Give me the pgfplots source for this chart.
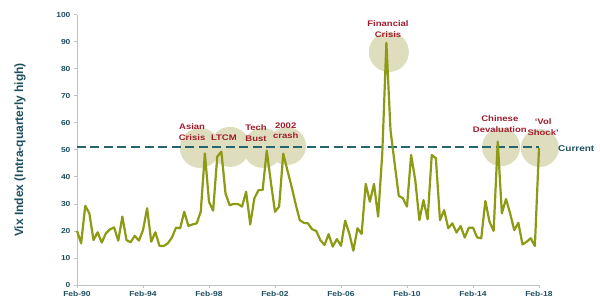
\documentclass[border=0pt]{standalone}
\usepackage{pgfplots}
\pgfplotsset{compat=1.18}
\usepackage{fontspec}
\setmainfont{Liberation Sans}
\definecolor{vixgreen}{RGB}{140,154,20}
\definecolor{tealtxt}{RGB}{30,80,95}
\definecolor{dashteal}{RGB}{40,100,110}
\definecolor{anred}{RGB}{160,28,44}
\definecolor{beige}{RGB}{222,221,190}
\definecolor{axgrey}{RGB}{185,195,200}
\newcommand\sq[1]{\scalebox{1}[0.85]{#1}}
\begin{document}
\begin{tikzpicture}
\useasboundingbox (-77pt,-22pt) rectangle (523pt,285pt);
\begin{axis}[
  at={(0pt,0pt)}, anchor=south west,
  scale only axis, width=462pt, height=270.3pt,
  xmin=0, xmax=112, ymin=0, ymax=100,
  axis lines*=left,
  axis line style={axgrey, line width=0.8pt},
  tick style={axgrey, line width=0.8pt},
  tick align=outside, major tick length=3pt,
  /pgf/number format/assume math mode=true,
  xtick={0,16,32,48,64,80,96,112},
  xticklabels={\sq{Feb-90},\sq{Feb-94},\sq{Feb-98},\sq{Feb-02},\sq{Feb-06},\sq{Feb-10},\sq{Feb-14},\sq{Feb-18}},
  ytick={0,10,...,100},
  yticklabel={\sq{\pgfmathprintnumber{\tick}}},
  ticklabel style={font=\fontsize{8.5}{10}\selectfont\bfseries, text=tealtxt},
  clip=false,
]
% annotation circles
\fill[beige] (axis cs:29.8,50.7) circle[radius=20pt];
\fill[beige] (axis cs:37.1,51.1) circle[radius=20pt];
\fill[beige] (axis cs:45.1,50.7) circle[radius=20pt];
\fill[beige] (axis cs:50.9,51.4) circle[radius=19pt];
\fill[beige] (axis cs:75.6,86.2) circle[radius=20pt];
\fill[beige] (axis cs:102.8,51.0) circle[radius=19pt];
\fill[beige] (axis cs:112.2,50.7) circle[radius=19pt];
% current level
\addplot[dashteal, line width=1.8pt, dash pattern=on 9pt off 4.5pt] coordinates {(0,51.2) (112,51.2)};
% VIX intra-quarterly high
\addplot[vixgreen, line width=2.2pt, line join=round] coordinates {
(0,20) (1,15.4) (2,29.3) (3,26.5) (4,16.6) (5,19.5) (6,15.7) (7,19.1) (8,20.6) (9,21.3)
(10,16.4) (11,25.3) (12,16.6) (13,15.8) (14,18.2) (15,16.4) (16,20.3) (17,28.4) (18,16.0) (19,19.5)
(20,14.5) (21,14.4) (22,15.4) (23,17.5) (24,21.2) (25,21.0) (26,27.1) (27,21.9) (28,22.4) (29,22.8)
(30,27.1) (31,48.7) (32,30.8) (33,27.5) (34,47.5) (35,49.3) (36,33.9) (37,29.5) (38,30.0) (39,30.0)
(40,29.0) (41,34.5) (42,22.4) (43,32.1) (44,35.1) (45,35.1) (46,49.7) (47,38.0) (48,27.1) (49,29.0)
(50,48.6) (51,42.5) (52,36.5) (53,30.0) (54,24.0) (55,23.0) (56,22.8) (57,20.6) (58,20.0) (59,16.6)
(60,14.8) (61,18.8) (62,14.2) (63,17.0) (64,14.5) (65,23.8) (66,19.1) (67,12.7) (68,21.0) (69,18.9)
(70,37.4) (71,30.8) (72,37.4) (73,25.3) (74,48.5) (75,89.6) (76,57.3) (77,45.0) (78,33.0) (79,32.1)
(80,29.0) (81,48.1) (82,38.8) (83,24.0) (84,31.4) (85,24.3) (86,48.1) (87,46.9) (88,24.0) (89,27.7)
(90,21.0) (91,22.8) (92,19.4) (93,21.8) (94,17.6) (95,21.2) (96,21.2) (97,17.6) (98,17.3) (99,31.1)
(100,23.4) (101,20.0) (102,53.0) (103,26.5) (104,31.8) (105,26.5) (106,20.3) (107,23.0) (108,15.0) (109,16.0)
(110,17.3) (111,14.4) (112,50.6)
};
% annotations
\tikzset{ann/.style={font=\fontsize{9.5}{10.5}\selectfont\bfseries, text=anred, align=center, inner sep=0pt}}
\node[ann] at (axis cs:27.9,56.6) {\sq{Asian}\\\sq{Crisis}};
\node[ann] at (axis cs:35.6,54.4) {\sq{LTCM}};
\node[ann] at (axis cs:43.4,56.2) {\sq{Tech}\\\sq{Bust}};
\node[ann] at (axis cs:50.6,57.0) {\sq{2002}\\\sq{crash}};
\node[ann] at (axis cs:75.4,94.7) {\sq{Financial}\\\sq{Crisis}};
\node[ann] at (axis cs:102.5,59.6) {\sq{Chinese}\\\sq{Devaluation}};
\node[ann] at (axis cs:113.0,58.5) {\sq{‘Vol}\\\sq{Shock’}};
\node[font=\fontsize{10}{11}\selectfont\bfseries, text=tealtxt, anchor=west, inner sep=0pt] at (axis cs:116.6,50.4) {\sq{Current}};
\end{axis}
\node[rotate=90, font=\fontsize{12}{14}\selectfont\bfseries, text=tealtxt, inner sep=0pt] at (-57pt,135pt) {Vix Index (Intra-quarterly high)};
\end{tikzpicture}
\end{document}
